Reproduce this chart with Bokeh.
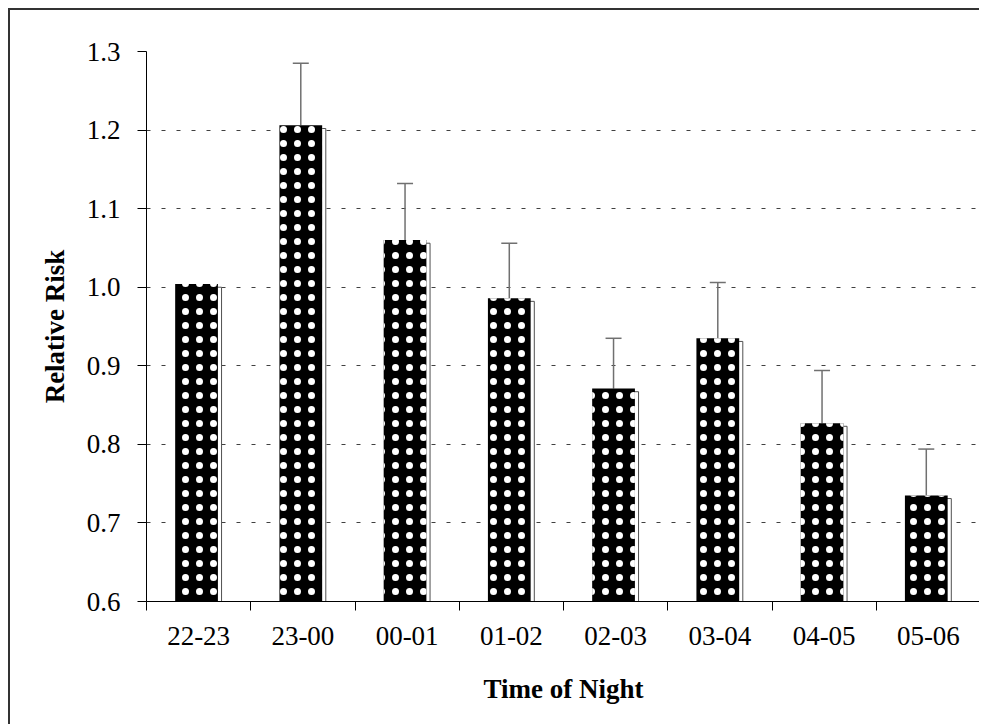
from bokeh.plotting import figure
from bokeh.models import (ColumnDataSource, FixedTicker, Span, Whisker, TeeHead,
                          NumeralTickFormatter, Range1d)
from bokeh.transform import dodge
from bokeh.embed import file_html
from bokeh.resources import INLINE

# ---- data ----
periods = ["22-23", "23-00", "00-01", "01-02", "02-03", "03-04", "04-05", "05-06"]
risk = [1.004, 1.206, 1.060, 0.986, 0.871, 0.935, 0.827, 0.735]
shadow = [1.000, 1.202, 1.056, 0.982, 0.867, 0.931, 0.823, 0.731]
upper = [None, 1.285, 1.132, 1.056, 0.935, 1.006, 0.894, 0.794]
y_ticks = [0.6, 0.7, 0.8, 0.9, 1.0, 1.1, 1.2, 1.3]

pos = [i + 0.5 for i in range(len(periods))]
bounds = [float(i) for i in range(len(periods) + 1)]

src = ColumnDataSource(dict(x=pos, risk=risk, shadow=shadow, label=periods))
eidx = [i for i, u in enumerate(upper) if u is not None]
esrc = ColumnDataSource(dict(x=[pos[i] for i in eidx],
                             lower=[risk[i] for i in eidx],
                             upper=[upper[i] for i in eidx]))

FONT = "Liberation Serif"

p = figure(width=971, height=716, output_backend="svg", toolbar_location=None,
           x_range=Range1d(0, len(periods)), y_range=Range1d(y_ticks[0], y_ticks[-1]),
           min_border_left=136, min_border_right=1, min_border_top=41, min_border_bottom=125)
p.outline_line_color = None
p.background_fill_color = "white"
p.border_fill_color = "white"
p.styles = {"margin-left": "8px", "margin-top": "8px",
            "border-left": "2px solid #333333", "border-top": "2px solid #333333"}

# grid
p.xgrid.visible = False
p.ygrid.ticker = FixedTicker(ticks=y_ticks)
p.ygrid.grid_line_color = "#404040"
p.ygrid.grid_line_dash = "4 11"
p.ygrid.grid_line_width = 1

# shadow bars
p.vbar(x=dodge("x", 0.015), top="shadow", bottom=y_ticks[0], width=0.41, source=src,
       fill_color="white", line_color="#505050", line_width=1)

# main dotted black bars
p.vbar(x=dodge("x", -0.02), top="risk", bottom=y_ticks[0], width=0.41, source=src,
       fill_color="black", line_color=None,
       hatch_pattern="dot", hatch_color="white", hatch_scale=14, hatch_weight=1)

# error bars (upper only)
wh = Whisker(base=dodge("x", -0.02), lower="lower", upper="upper", source=esrc,
             line_color="#707070", line_width=1.5,
             upper_head=TeeHead(size=16, line_color="#707070", line_width=1.5),
             lower_head=None)
p.add_layout(wh)

# right border of plot area
p.add_layout(Span(location=len(periods), dimension="height", line_color="black", line_width=1))

# y axis
ya = p.yaxis[0]
ya.ticker = FixedTicker(ticks=y_ticks)
ya.formatter = NumeralTickFormatter(format="0.0")
ya.major_tick_out = 9
ya.major_tick_in = 0
ya.minor_tick_line_color = None
ya.axis_line_color = "black"
ya.major_tick_line_color = "black"
ya.major_label_text_font = FONT
ya.major_label_text_font_size = "27px"
ya.major_label_text_color = "black"
ya.major_label_standoff = 17
ya.axis_label = "Relative Risk"
ya.axis_label_text_font = FONT
ya.axis_label_text_font_style = "bold"
ya.axis_label_text_font_size = "27px"
ya.axis_label_text_color = "black"
ya.axis_label_standoff = 14

# x axis
xa = p.xaxis[0]
xa.ticker = FixedTicker(ticks=pos, minor_ticks=bounds)
overrides = {}
for v, lab in zip(pos, periods):
    overrides[v] = lab
xa.major_label_overrides = overrides
xa.major_tick_line_color = None
xa.minor_tick_line_color = "black"
xa.minor_tick_out = 9
xa.minor_tick_in = 0
xa.axis_line_color = "black"
xa.major_label_text_font = FONT
xa.major_label_text_font_size = "27px"
xa.major_label_text_color = "black"
xa.major_label_standoff = 16
xa.axis_label = "Time of Night"
xa.axis_label_text_font = FONT
xa.axis_label_text_font_style = "bold"
xa.axis_label_text_font_size = "27px"
xa.axis_label_text_color = "black"
xa.axis_label_standoff = 26

open("out.html", "w").write(file_html(p, INLINE))
